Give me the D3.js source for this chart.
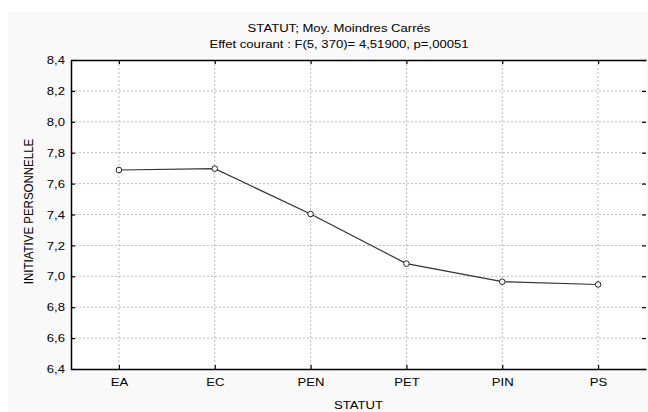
<!DOCTYPE html>
<html>
<head>
<meta charset="utf-8">
<script src="https://cdn.jsdelivr.net/npm/d3@7.9.0/dist/d3.min.js"></script>
<style>
  body { margin: 0; background: #fff; }
  svg { display: block; font-family: "Liberation Sans", Arial, sans-serif; }
</style>
</head>
<body>
<svg id="chart" width="648" height="412"></svg>
<script>
const categories = ['EA', 'EC', 'PEN', 'PET', 'PIN', 'PS'];
const means = [7.688, 7.697, 7.403, 7.082, 6.965, 6.947];
const yTicks = [6.4, 6.6, 6.8, 7.0, 7.2, 7.4, 7.6, 7.8, 8.0, 8.2, 8.4];
const titleLines = ['STATUT; Moy. Moindres Carrés', 'Effet courant : F(5, 370)= 4,51900, p=,00051'];
const xTitle = 'STATUT';
const yTitle = 'INITIATIVE PERSONNELLE';

const svg = d3.select('#chart');
const plotLeft = 71, plotRight = 646, plotTop = 60, plotBottom = 369;
const fs = 11.5, stretch = 1.14; // text in the picture is a bit wider than tall

// outer grey panel
svg.append('rect').attr('x', 8).attr('y', 12).attr('width', 640).attr('height', 400).attr('fill', '#f9f9f9');
svg.append('rect').attr('x', plotLeft).attr('y', plotTop).attr('width', plotRight - plotLeft).attr('height', plotBottom - plotTop).attr('fill', '#fff');

let x = d3.scalePoint().domain(categories).range([plotLeft, plotRight]).padding(0.5);
let y = d3.scaleLinear().domain([6.4, 8.4]).range([plotBottom, plotTop]);
const fmt = (d) => d3.format('.1f')(d).replace('.', ',');

// grid
svg.append('g').selectAll('line').data(yTicks.slice(1, -1)).join('line')
    .attr('x1', plotLeft).attr('x2', plotRight)
    .attr('y1', (d) => y(d)).attr('y2', (d) => y(d))
    .attr('stroke', '#bbb').attr('stroke-dasharray', '2,2').attr('stroke-width', 1);
svg.append('g').selectAll('line').data(categories).join('line')
    .attr('x1', (d) => x(d)).attr('x2', (d) => x(d))
    .attr('y1', plotTop).attr('y2', plotBottom)
    .attr('stroke', '#bbb').attr('stroke-dasharray', '2,2').attr('stroke-width', 1);

// axes
let yAxis = svg.append('g').attr('transform', `translate(${plotLeft},0)`)
    .call(d3.axisLeft(y).tickValues(yTicks).tickFormat(fmt).tickSizeInner(-4).tickSizeOuter(0).tickPadding(5.3));
let yAxisR = svg.append('g').attr('transform', `translate(${plotRight},0)`)
    .call(d3.axisRight(y).tickValues(yTicks).tickFormat('').tickSizeInner(-4).tickSizeOuter(0));
yAxisR.select('.domain').remove();
let xAxis = svg.append('g').attr('transform', `translate(0,${plotBottom})`)
    .call(d3.axisBottom(x).tickSizeInner(-4).tickSizeOuter(0).tickPadding(9));
let xAxisT = svg.append('g').attr('transform', `translate(0,${plotTop})`)
    .call(d3.axisTop(x).tickFormat('').tickSizeInner(-4).tickSizeOuter(0));

svg.selectAll('.domain').attr('stroke', '#000').attr('stroke-width', 1.5);
svg.selectAll('.tick line').attr('stroke', '#000').attr('stroke-width', 1.2);
svg.selectAll('.tick text').attr('font-size', fs).attr('fill', '#000')
    .attr('font-family', '"Liberation Sans", Arial, sans-serif')
    .attr('transform', `scale(${stretch},1)`);

// line + markers
let line = d3.line().x((d, i) => x(categories[i])).y((d) => y(d));
svg.append('path').datum(means).attr('d', line)
    .attr('fill', 'none').attr('stroke', '#333').attr('stroke-width', 1.2);
svg.append('g').selectAll('circle').data(means).join('circle')
    .attr('cx', (d, i) => x(categories[i])).attr('cy', (d) => y(d)).attr('r', 2.8)
    .attr('fill', '#fff').attr('stroke', '#222').attr('stroke-width', 1);

// titles
titleLines.forEach((t, i) => {
    svg.append('text').attr('transform', `translate(339,${31.5 + i * 16}) scale(${stretch},1)`)
        .attr('text-anchor', 'middle').attr('font-size', fs).text(t);
});
svg.append('text').attr('transform', `translate(${(plotLeft + plotRight) / 2},409) scale(${stretch},1)`)
    .attr('text-anchor', 'middle').attr('font-size', fs).text(xTitle);
svg.append('text').attr('transform', `translate(33,211.5) rotate(-90) scale(1,${stretch})`)
    .attr('text-anchor', 'middle').attr('font-size', fs).text(yTitle);
</script>
</body>
</html>
